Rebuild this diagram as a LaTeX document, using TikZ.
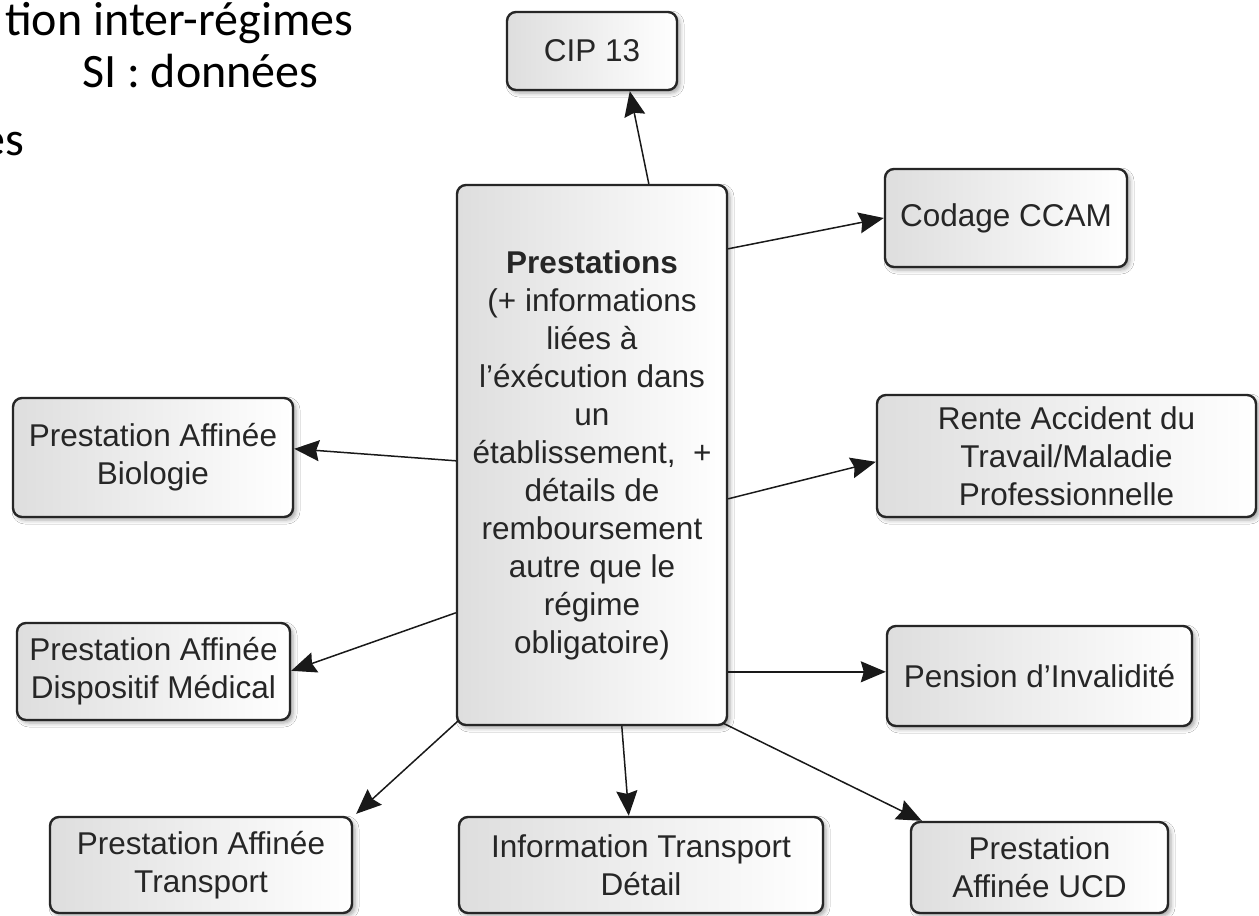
\documentclass[tikz,border=0pt]{standalone}
\usepackage{fontspec}
\setmainfont{Liberation Sans}
\newfontfamily\slidefont{Carlito}
\usetikzlibrary{arrows.meta,calc,shadows.blur}

\begin{document}
\begin{tikzpicture}[x=1pt,y=-1pt,
  box/.style={draw=black!85, line width=2.4pt, rounded corners=9pt,
    left color=black!13, right color=white,
    blur shadow={shadow xshift=3pt, shadow yshift=-3pt,
                 shadow blur radius=4pt, shadow opacity=35},
    align=center, inner sep=0pt, text=black!85,
    font=\fontsize{31.5}{38}\selectfont},
  link/.style={draw=black!90, line width=1.5pt,
    -{Stealth[length=25pt,width=21pt,inset=3pt]}},
  slide/.style={font=\slidefont\fontsize{48}{58}\selectfont,
    inner sep=0pt, text=black}]

\fill[white] (0,0) rectangle (1259,916);
\useasboundingbox (0,0) rectangle (1259,916);

% slide text
\node[slide, anchor=base west] (t1) at (5,35) {tion inter-régimes};
\node[slide, anchor=base west] (t2) at (82,87) {SI : données};
\node[slide, anchor=base east] (t3) at (24,155) {es};

% central entity
\node[box, minimum width=270pt, minimum height=540pt] (c) at (592,455)
  {\textbf{Prestations}\\(+ informations\\liées à\\l’éxécution dans\\un\\
   établissement,~~+\\détails de\\remboursement\\autre que le\\régime\\obligatoire)};

% satellite entities
\node[box, minimum width=170pt, minimum height=78pt]  (cip)    at (592,51)     {CIP 13};
\node[box, minimum width=242pt, minimum height=98pt]  (ccam)   at (1006,218)   {Codage CCAM};
\node[box, minimum width=379pt, minimum height=122pt] (rente)  at (1066.5,456) {Rente Accident du\\Travail/Maladie\\Professionnelle};
\node[box, minimum width=305pt, minimum height=100pt] (pens)   at (1039.5,676) {Pension d’Invalidité};
\node[box, minimum width=257pt, minimum height=91pt]  (ucd)    at (1039.5,867.5) {Prestation\\Affinée UCD};
\node[box, minimum width=364pt, minimum height=96pt]  (info)   at (641,865)    {Information Transport\\Détail};
\node[box, minimum width=302pt, minimum height=96pt]  (transp) at (201,865)    {Prestation Affinée\\Transport};
\node[box, minimum width=273pt, minimum height=97pt]  (disp)   at (153.5,671.5) {Prestation Affinée\\Dispositif Médical};
\node[box, minimum width=280pt, minimum height=119pt] (bio)    at (153,457.5)  {Prestation Affinée\\Biologie};

% connectors
\draw[link] ($(c.north west)+(193,0)$) -- ($(cip.south west)+(124,0)$);
\draw[link] ($(c.north east)+(0,65)$)  -- (ccam.west);
\draw[link] ($(c.north east)+(0,315)$) -- ($(rente.north west)+(0,68)$);
\coordinate (cp) at ($(c.north east)+(0,488)$);
\draw[link] (cp) -- (cp -| pens.west);
\draw[link] ($(c.north west)+(0,277)$) -- ($(bio.north east)+(0,52)$);
\draw[link] ($(c.north west)+(0,429)$) -- ($(disp.north east)+(0,49)$);
\draw[link] ($(c.south west)+(2,-5)$)  -- ($(transp.north east)+(3,-2)$);
\draw[link] ($(c.south west)+(166,0)$) -- ($(info.north west)+(171,0)$);
\draw[link] ($(c.south east)+(-5,-3)$) -- ($(ucd.north west)+(12,0)$);
\end{tikzpicture}
\end{document}
